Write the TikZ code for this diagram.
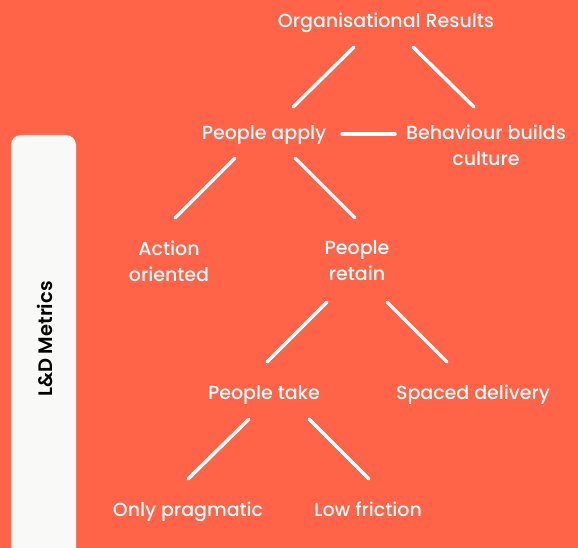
\documentclass[tikz,border=0pt]{standalone}
\usepackage{fontspec}
\setmainfont{Poppins}[UprightFont=* Medium]
\newfontfamily\sidefont{Poppins}[UprightFont=* SemiBold]
\usepackage{tikz}
\usetikzlibrary{calc}
\definecolor{coral}{RGB}{255,99,72}
\definecolor{paper}{RGB}{249,249,247}

\begin{document}
\begin{tikzpicture}[
  x=1pt, y=-1pt,
  stage/.style={text=white, align=center, inner sep=0pt, yshift=-3pt,
    font={\fontsize{19}{26}\selectfont}},
  % single line stages keep the same box, descenders or not
  oneline/.style={stage, text height=14pt, text depth=4.6pt},
  link/.style={draw=white, line width=3.5pt, line cap=round},
  ]
  % Background and side panel
  \fill[coral] (0,0) rectangle (578,548);
  \useasboundingbox (0,0) rectangle (578,548);
  \fill[paper, rounded corners=10pt] (11,135) rectangle (76,560);
  \node[rotate=90, font={\fontsize{19.5}{22}\sidefont}] (side) at (45,339) {L\&D Metrics};

  % Stages of the tree
  \node[oneline] (org) at (386,20) {Organisational Results};
  \node[oneline] (apply) at (264,132) {People apply};
  \node[stage] (culture) at (486,142) {Behaviour builds\\culture};
  \node[stage] (action) at (169,258) {Action\\oriented};
  \node[stage] (retain) at (357,258) {People\\retain};
  \node[oneline] (take) at (264,392) {People take};
  \node[oneline] (spaced) at (473,392) {Spaced delivery};
  \node[oneline] (pragmatic) at (188,509) {Only pragmatic};
  \node[oneline] (friction) at (368,509) {Low friction};

  % Links
  \draw[link] ($(org)+(-32,24)$) -- ($(apply)+(29,-28)$);
  \draw[link] ($(org)+(27,24)$) -- ($(culture)+(-12,-38)$);
  \draw[link] ($(apply)+(78,-1)$) -- ($(culture)+(-91,-11)$);
  \draw[link] ($(apply)+(-29,23)$) -- ($(action)+(6,-43)$);
  \draw[link] ($(apply)+(31,23)$) -- ($(retain)+(-2,-43)$);
  \draw[link] ($(retain)+(-30,41)$) -- ($(take)+(3,-33)$);
  \draw[link] ($(retain)+(30,41)$) -- ($(spaced)+(-26,-33)$);
  \draw[link] ($(take)+(-15,24)$) -- ($(pragmatic)+(0,-33)$);
  \draw[link] ($(take)+(45,24)$) -- ($(friction)+(1,-33)$);
\end{tikzpicture}
\end{document}
